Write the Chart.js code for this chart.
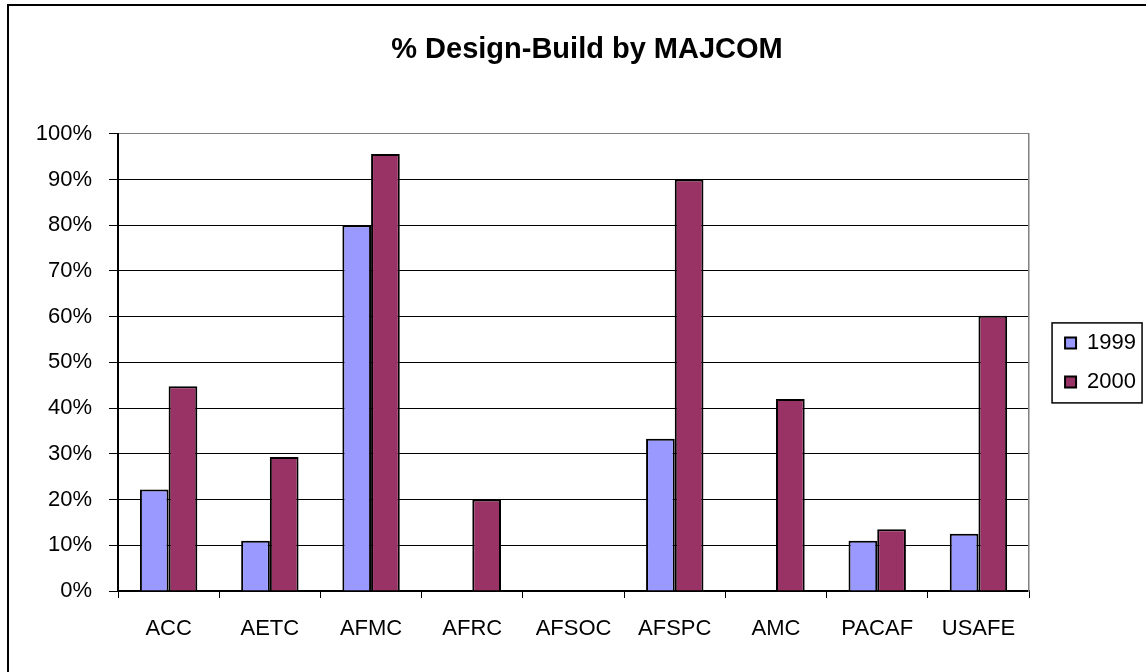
<!DOCTYPE html>
<html>
<head>
<meta charset="utf-8">
<script src="https://cdn.jsdelivr.net/npm/chart.js@4"></script>
<style>
    html, body { margin: 0; padding: 0; background: #fff; }
    #wrap { width: 1146px; height: 672px; }
</style>
</head>
<body>
<div id="wrap"><canvas id="myChart" width="1146" height="672"></canvas></div>
<script>
const categories = ['ACC', 'AETC', 'AFMC', 'AFRC', 'AFSOC', 'AFSPC', 'AMC', 'PACAF', 'USAFE'];
const values1999 = [22.2, 11.0, 80, 0, 0, 33.3, 0, 11.0, 12.5];
const values2000 = [44.8, 29.3, 95.6, 20, 0, 90, 42, 13.5, 60.2];
const yTicks = [0, 10, 20, 30, 40, 50, 60, 70, 80, 90, 100];

const font = "'Liberation Sans', Arial, sans-serif";

// outer frame + box around the legend
const framePlugin = {
    id: 'frame',
    beforeDraw(chart) {
        const c = chart.ctx;
        c.save();
        c.fillStyle = '#fff';
        c.fillRect(0, 0, chart.width, chart.height);
        c.fillStyle = '#000';
        c.fillRect(7, 4, chart.width - 7, 2);
        c.fillRect(7, 4, 2, chart.height - 4);
        c.restore();
    },
    afterDraw(chart) {
        const hb = chart.legend.legendHitBoxes;
        if (!hb || !hb.length) return;
        const last = hb[hb.length - 1];
        const c = chart.ctx;
        c.save();
        c.strokeStyle = '#000';
        c.lineWidth = 1.5;
        c.strokeRect(hb[0].left - 13, hb[0].top - 9, 90, last.top + last.height + 10 - (hb[0].top - 9));
        c.restore();
    }
};

const ctx = document.getElementById('myChart');
new Chart(ctx, {
    type: 'bar',
    data: {
        labels: categories,
        datasets: [{
            label: '1999',
            data: values1999,
            backgroundColor: '#9999ff',
            borderColor: '#000',
            borderWidth: 2,
        }, {
            label: '2000',
            data: values2000,
            backgroundColor: '#993366',
            borderColor: '#000',
            borderWidth: 2,
        }]
    },
    plugins: [framePlugin],
    options: {
        responsive: false,
        animation: false,
        datasets: {
            bar: {
                barPercentage: 1,
                categoryPercentage: 0.567
            }
        },
        layout: {
            padding: { left: 28, right: 0, top: 0, bottom: 0 }
        },
        plugins: {
            title: {
                display: true,
                text: '% Design-Build by MAJCOM',
                color: '#000',
                font: { family: font, size: 29, weight: 'bold' },
                padding: { top: 33, bottom: 66 }
            },
            legend: {
                position: 'right',
                fullSize: false,
                labels: {
                    color: '#000',
                    font: { family: font, size: 22 },
                    boxWidth: 11,
                    boxHeight: 11,
                    padding: 17,
                    useBorderRadius: false
                }
            },
            tooltip: { enabled: false }
        },
        scales: {
            x: {
                grid: {
                    display: true,
                    drawOnChartArea: false,
                    drawTicks: true,
                    tickLength: 7,
                    tickColor: '#000',
                    offset: true
                },
                border: { color: '#000', width: 2 },
                ticks: {
                    color: '#000',
                    font: { family: font, size: 22 },
                    padding: 18,
                    maxRotation: 0,
                    autoSkip: false
                },
                afterFit: s => { s.height = 81; }
            },
            y: {
                min: 0,
                max: 100,
                afterBuildTicks: s => { s.ticks = yTicks.map(v => ({ value: v })); },
                grid: {
                    color: c => (c.tick && c.tick.value === 100) ? '#808080' : '#000',
                    tickColor: '#000',
                    tickLength: 9,
                    lineWidth: 1
                },
                border: { color: '#000', width: 2 },
                ticks: {
                    color: '#000',
                    font: { family: font, size: 22 },
                    padding: 17,
                    callback: v => v + '%'
                },
                afterFit: s => { s.width = 90; }
            },
            y2: {
                position: 'right',
                min: 0,
                max: 100,
                grid: { display: false },
                ticks: { display: false },
                border: { color: '#808080', width: 1.5 },
                afterFit: s => { s.width = 19; }
            }
        }
    }
});
</script>
</body>
</html>
